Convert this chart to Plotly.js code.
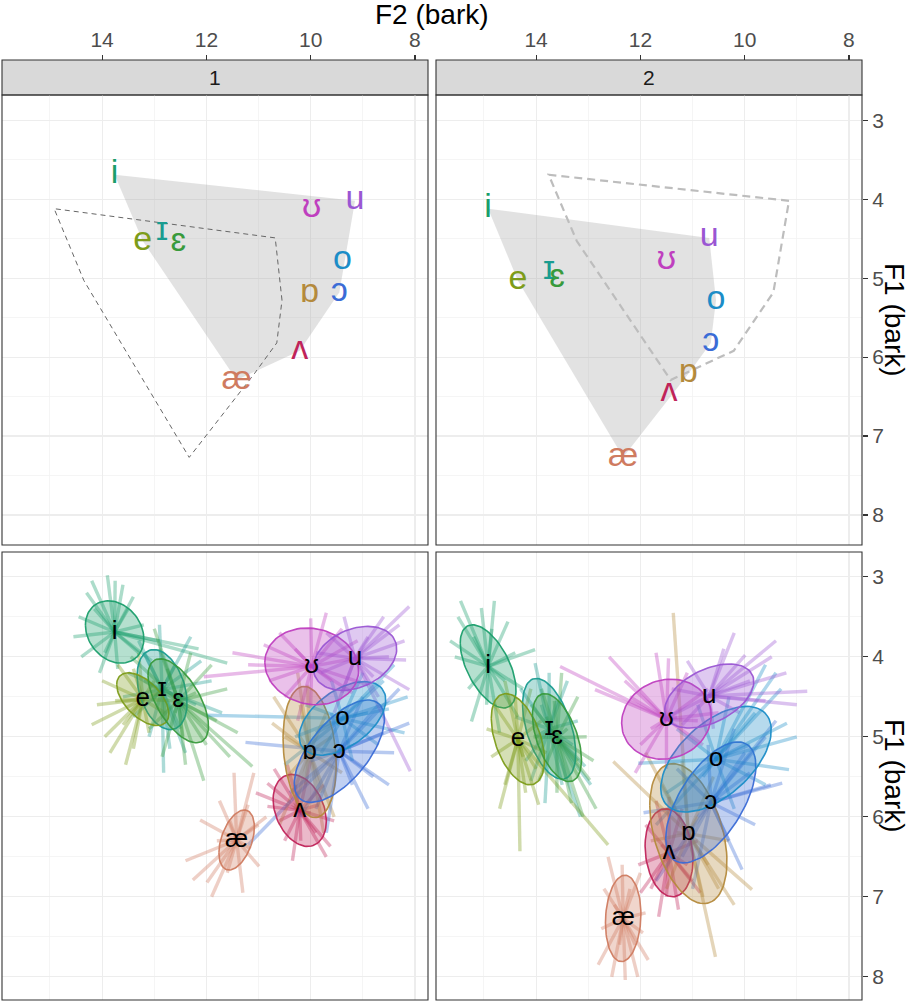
<!DOCTYPE html>
<html><head><meta charset="utf-8">
<script src="https://cdn.plot.ly/plotly-3.0.1.min.js"></script>
<style>html,body{margin:0;padding:0;background:#fff}#chart{width:912px;height:1002px}</style>
</head><body><div id="chart"></div>
<script>
// ---------------- DATA ----------------
const vowels = ['i','ɪ','e','ɛ','æ','ʌ','ɒ','ɔ','o','ʊ','u'];
const vowelColors = ['#1A9E6B','#1A9C90','#7D9C1A','#389A3C','#CF7B60','#C0245A','#B48A3C','#3B6CD6','#1C8DC7','#BF3FBF','#9A56D3'];
const speakers = ['1','2'];
const f2Ticks = [8,10,12,14];
const f1Ticks = [3,4,5,6,7,8];

// speaker means (bark)
const s1F2 = [13.76,12.85,13.22,12.54,11.42,10.21,10.02,9.45,9.39,9.98,9.15];
const s1F1 = [3.69,4.41,4.53,4.55,6.29,5.92,5.19,5.18,4.77,4.12,4.02];
const s2F2 = [14.92,13.75,14.35,13.60,12.33,11.45,11.08,10.65,10.55,11.50,10.68];
const s2F1 = [4.12,4.90,5.03,5.01,7.27,6.45,6.21,5.82,5.28,4.78,4.49];

// ellipse spreads: sd F2, sd F1, correlation
const s1SdF2 = [0.56,0.48,0.50,0.58,0.34,0.51,0.51,0.865,0.83,0.90,0.80];
const s1SdF1 = [0.39,0.50,0.33,0.525,0.375,0.45,0.82,0.64,0.46,0.48,0.40];
const s1Rho  = [-0.22,-0.33,-0.55,-0.6,0.43,-0.3,-0.2,0.63,0.5,-0.1,0.3];
const s2SdF2 = [0.535,0.51,0.51,0.47,0.34,0.46,0.74,0.865,1.06,0.86,0.855];
const s2SdF1 = [0.52,0.63,0.57,0.55,0.54,0.55,0.875,0.756,0.66,0.50,0.40];
const s2Rho  = [-0.56,-0.48,-0.45,-0.5,0.1,-0.15,-0.4,0.6,0.55,0.1,0.45];

// individual tokens [F2, F1], speaker 1
const tok1_i = [[14.30,3.20],[13.90,2.98],[13.60,3.10],[13.40,3.25],[14.45,3.50],[14.40,4.00],[14.05,4.20],[13.70,4.15],[13.30,3.95],[12.90,3.80],[12.15,3.90],[11.60,4.08],[13.50,3.40],[14.15,3.40],[13.95,3.95],[13.20,3.60],[14.55,3.75],[13.75,3.05],[14.20,3.05],[13.05,4.05]];
const tok1_I = [[12.82,5.45],[12.90,3.60],[12.30,3.75],[13.30,3.80],[13.50,4.20],[13.40,4.75],[13.10,5.00],[12.50,4.90],[12.20,4.60],[11.90,4.30],[12.60,4.10],[13.05,4.55],[12.70,5.15],[13.60,4.50],[12.10,4.05],[12.40,5.20],[13.20,3.95],[11.70,4.70]];
const tok1_e = [[13.95,5.00],[14.10,4.60],[14.00,4.30],[13.70,4.10],[13.40,4.15],[13.00,4.30],[12.80,4.70],[13.10,4.95],[13.40,5.15],[13.60,4.85],[12.90,4.45],[13.75,4.55],[14.20,4.85],[13.85,5.20],[12.60,4.55],[13.30,3.95],[13.55,5.35]];
const tok1_E = [[11.12,5.37],[11.60,4.40],[11.90,4.10],[12.30,3.95],[12.90,3.90],[13.20,4.30],[13.10,4.90],[12.85,5.25],[12.40,5.35],[12.00,5.10],[11.80,4.80],[12.60,4.70],[12.20,4.45],[12.75,4.15],[13.45,4.00],[11.55,5.25],[12.05,5.55],[13.00,3.65],[12.45,5.00],[11.40,4.95]];
const tok1_ae = [[12.26,6.79],[11.99,6.82],[11.47,5.45],[11.09,5.45],[10.99,6.62],[12.12,6.04],[11.75,5.80],[11.20,5.85],[11.15,6.40],[11.60,6.70],[11.30,6.95],[11.80,6.30],[11.00,6.10],[12.40,6.55],[10.85,6.00],[11.55,6.05],[11.90,7.00]];
const tok1_V = [[9.62,6.37],[10.83,5.87],[10.83,5.58],[10.19,6.30],[10.50,6.30],[9.90,6.20],[9.75,5.60],[10.00,5.30],[10.45,5.35],[10.60,6.05],[10.00,5.95],[10.30,5.60],[9.85,5.85],[11.05,5.70],[9.55,6.05],[10.35,6.55],[9.70,6.50],[10.70,5.40]];
const tok1_A = [[10.06,4.35],[9.55,6.00],[10.74,4.83],[10.71,4.50],[10.30,5.90],[9.80,5.70],[9.70,4.70],[10.20,4.60],[10.45,5.50],[9.90,5.20],[10.10,5.60],[9.60,5.00],[10.50,5.00],[9.75,6.20],[10.25,4.20],[9.40,5.45],[10.60,6.10]];
const tok1_O = [[8.11,4.83],[11.25,5.07],[11.20,6.35],[8.40,5.20],[8.70,4.60],[9.00,4.50],[9.90,5.90],[10.20,6.00],[9.20,5.60],[8.80,5.50],[9.60,4.70],[10.00,5.30],[9.30,5.05],[8.90,5.90],[8.30,4.40],[10.40,5.70],[8.60,4.95],[9.70,6.20],[8.50,5.60]];
const tok1_o = [[11.99,4.73],[8.14,4.50],[8.20,4.95],[8.60,4.30],[9.00,4.20],[9.60,4.30],[10.10,4.60],[10.30,5.00],[9.80,5.20],[9.20,5.30],[8.70,5.10],[9.50,4.85],[8.90,4.70],[8.40,4.10],[10.50,5.35],[9.90,4.95],[8.50,4.65]];
const tok1_U = [[12.05,4.25],[11.20,4.10],[10.00,3.52],[10.00,4.62],[10.60,3.70],[9.40,3.65],[9.00,4.00],[9.20,4.45],[10.50,4.50],[10.80,4.30],[9.60,4.30],[10.30,3.90],[9.10,3.80],[11.50,3.95],[10.90,3.85],[8.90,4.35],[9.70,3.45],[10.25,4.80]];
const tok1_u = [[8.11,3.37],[8.17,4.04],[8.11,4.41],[9.36,3.50],[8.09,5.43],[8.60,3.50],[9.70,3.70],[9.80,4.20],[9.40,4.45],[8.70,4.50],[8.90,3.75],[9.20,4.10],[8.50,4.00],[8.30,3.60],[9.90,3.95],[8.80,4.25],[8.20,3.80],[9.55,4.70]];

// individual tokens [F2, F1], speaker 2
const tok2_i = [[15.05,3.39],[15.50,3.50],[15.56,4.00],[15.24,4.81],[14.02,3.91],[14.35,4.75],[14.54,3.56],[14.80,3.30],[15.30,4.40],[14.60,4.30],[14.95,4.60],[15.20,3.75],[14.40,3.95],[15.45,3.30],[14.70,4.95],[14.25,4.40],[15.65,3.80],[14.85,3.65]];
const tok2_I = [[14.02,4.08],[13.06,5.37],[13.83,5.83],[14.30,4.40],[14.20,5.30],[13.40,4.30],[13.20,4.80],[13.50,5.60],[14.00,5.00],[13.60,4.55],[13.30,5.10],[13.90,4.60],[14.40,4.75],[12.95,5.60],[13.75,4.20],[13.15,6.00],[14.10,5.55]];
const tok2_e = [[14.31,6.43],[12.62,6.35],[14.86,5.25],[14.80,4.60],[14.60,4.30],[14.10,4.40],[13.90,4.80],[14.00,5.40],[14.20,5.70],[14.60,5.60],[14.45,5.00],[13.80,5.20],[14.95,4.90],[14.40,4.50],[13.95,5.85],[14.70,5.90],[14.25,5.25]];
const tok2_E = [[12.97,5.54],[13.51,4.20],[13.03,5.00],[13.32,5.83],[13.20,4.50],[13.90,4.40],[14.05,5.00],[13.95,5.55],[13.60,5.70],[13.20,5.30],[13.80,4.75],[13.40,4.90],[12.85,5.90],[13.10,6.00],[14.10,4.60],[13.65,4.55],[12.90,5.30]];
const tok2_ae = [[12.62,6.50],[12.29,8.04],[12.81,7.85],[11.85,7.79],[12.00,6.70],[12.70,6.90],[12.75,7.40],[11.90,7.20],[12.10,7.60],[12.50,7.10],[12.20,6.90],[12.40,7.60],[12.55,8.00],[12.05,8.00],[12.35,6.60],[11.95,7.45]];
const tok2_V = [[12.04,6.60],[11.27,7.16],[11.90,6.10],[11.70,5.80],[11.20,5.90],[10.90,6.30],[11.00,6.80],[11.50,7.00],[11.80,6.90],[11.35,6.50],[11.60,6.35],[11.10,6.60],[12.00,6.95],[11.45,5.75],[10.85,6.95],[11.65,7.25]];
const tok2_A = [[11.37,3.45],[10.56,7.75],[9.86,6.91],[12.52,5.31],[11.60,5.60],[10.60,5.50],[10.30,6.30],[10.80,7.00],[11.50,6.90],[11.30,6.20],[10.90,6.00],[11.80,6.30],[10.70,6.60],[11.90,5.20],[10.20,7.10],[11.20,5.30],[10.50,6.90]];
const tok2_O = [[9.28,5.58],[9.60,5.00],[10.05,6.66],[11.94,5.95],[11.20,6.50],[10.30,6.30],[9.80,6.10],[10.00,5.20],[10.70,5.10],[11.30,5.40],[10.50,5.75],[10.90,6.00],[9.50,5.60],[9.40,4.80],[11.70,6.80],[9.90,5.45],[11.00,6.90],[10.20,4.90]];
const tok2_o = [[9.19,4.83],[9.15,5.41],[9.30,4.40],[12.04,5.33],[11.50,5.70],[11.30,4.90],[10.90,4.60],[10.30,4.50],[9.80,4.70],[9.60,5.60],[10.20,5.90],[10.60,5.20],[9.90,5.10],[9.40,4.20],[11.70,6.10],[9.00,5.00],[10.80,5.50],[9.60,4.10]];
const tok2_U = [[13.54,4.12],[12.87,4.41],[11.46,4.02],[12.20,4.50],[12.00,5.10],[11.50,5.40],[10.80,5.10],[10.70,4.40],[11.10,4.20],[11.80,4.90],[11.30,4.75],[12.30,4.30],[10.90,4.80],[12.60,4.00],[11.70,3.95],[10.50,4.70],[12.10,5.45]];
const tok2_u = [[8.80,4.43],[9.48,4.00],[9.99,3.98],[10.40,3.90],[11.10,4.05],[11.40,4.40],[11.20,4.85],[10.60,4.90],[10.10,4.70],[9.60,4.55],[9.90,4.30],[10.80,4.50],[9.20,4.20],[9.40,3.80],[10.20,3.70],[11.60,4.80],[9.00,4.60]];

const tokens1 = [tok1_i,tok1_I,tok1_e,tok1_E,tok1_ae,tok1_V,tok1_A,tok1_O,tok1_o,tok1_U,tok1_u];
const tokens2 = [tok2_i,tok2_I,tok2_e,tok2_E,tok2_ae,tok2_V,tok2_A,tok2_O,tok2_o,tok2_U,tok2_u];

// ---------------- HELPERS ----------------
function rgba(hex, a){const n=parseInt(hex.slice(1),16);return `rgba(${n>>16},${(n>>8)&255},${n&255},${a})`;}
function hull(xs, ys){
  const pts=xs.map((x,i)=>[x,ys[i]]).sort((a,b)=>a[0]-b[0]||a[1]-b[1]);
  const cr=(o,a,b)=>(a[0]-o[0])*(b[1]-o[1])-(a[1]-o[1])*(b[0]-o[0]);
  const lo=[],up=[];
  for(const p of pts){while(lo.length>=2&&cr(lo[lo.length-2],lo[lo.length-1],p)<=0)lo.pop();lo.push(p);}
  for(let i=pts.length-1;i>=0;i--){const p=pts[i];while(up.length>=2&&cr(up[up.length-2],up[up.length-1],p)<=0)up.pop();up.push(p);}
  lo.pop();up.pop();const h=lo.concat(up);h.push(h[0]);return h;
}
function ellipse(mx,my,sx,sy,r){
  const xs=[],ys=[],q=Math.sqrt(1-r*r);
  for(let k=0;k<=90;k++){const t=2*Math.PI*k/90;xs.push(mx+sx*Math.cos(t));ys.push(my+sy*(r*Math.cos(t)+q*Math.sin(t)));}
  return [xs,ys];
}

const FONT='Liberation Sans, Arial, Helvetica, sans-serif';
const means=[[s1F2,s1F1],[s2F2,s2F1]];
const sds=[[s1SdF2,s1SdF1,s1Rho],[s2SdF2,s2SdF1,s2Rho]];
const toks=[tokens1,tokens2];
const topAx=[['x','y'],['x2','y2']];
const botAx=[['x3','y3'],['x4','y4']];
const traces=[];

// ---------------- TOP ROW: polygons + coloured labels ----------------
for(let s=0;s<2;s++){
  const [xa,ya]=topAx[s];
  const h=hull(means[s][0],means[s][1]);
  traces.push({x:h.map(p=>p[0]),y:h.map(p=>p[1]),xaxis:xa,yaxis:ya,mode:'lines',fill:'toself',
    fillcolor:'rgba(160,160,160,0.30)',line:{width:0,color:'rgba(0,0,0,0)'},hoverinfo:'skip'});
  const o=1-s;
  const ho=hull(means[o][0],means[o][1]);
  traces.push({x:ho.map(p=>p[0]),y:ho.map(p=>p[1]),xaxis:xa,yaxis:ya,mode:'lines',
    line:s===0?{width:1,color:'#666666',dash:'5px,4px'}:{width:2.2,color:'#BDBDBD',dash:'8px,5px'},hoverinfo:'skip'});
  traces.push({x:means[s][0],y:means[s][1],xaxis:xa,yaxis:ya,mode:'text',text:vowels,
    textposition:'middle center',textfont:{family:FONT,size:34,color:vowelColors},hoverinfo:'skip',cliponaxis:false});
}

// ---------------- BOTTOM ROW: spokes, ellipses, black labels ----------------
for(let s=0;s<2;s++){
  const [xa,ya]=botAx[s];
  for(let v=0;v<vowels.length;v++){
    const mx=means[s][0][v],my=means[s][1][v];
    const xs=[],ys=[];
    for(const t of toks[s][v]){xs.push(mx,t[0],null);ys.push(my,t[1],null);}
    traces.push({x:xs,y:ys,xaxis:xa,yaxis:ya,mode:'lines',line:{width:3.4,color:rgba(vowelColors[v],0.36)},hoverinfo:'skip'});
  }
  for(let v=0;v<vowels.length;v++){
    const [ex,ey]=ellipse(means[s][0][v],means[s][1][v],sds[s][0][v],sds[s][1][v],sds[s][2][v]);
    traces.push({x:ex,y:ey,xaxis:xa,yaxis:ya,mode:'lines',fill:'toself',fillcolor:rgba(vowelColors[v],0.32),
      line:{width:1.6,color:rgba(vowelColors[v],0.95)},hoverinfo:'skip'});
  }
  traces.push({x:means[s][0],y:means[s][1],xaxis:xa,yaxis:ya,mode:'text',text:vowels,
    textposition:'middle center',textfont:{family:FONT,size:26,color:'#000000'},hoverinfo:'skip'});
}

// invisible traces for top tick axes
traces.push({x:[12],y:[5],xaxis:'x5',yaxis:'y',mode:'markers',marker:{opacity:0},hoverinfo:'skip'});
traces.push({x:[12],y:[5],xaxis:'x6',yaxis:'y2',mode:'markers',marker:{opacity:0},hoverinfo:'skip'});

// ---------------- LAYOUT ----------------
const W=912,H=1002;
const px=v=>v/W, py=v=>1-v/H;
const colL=[px(2),px(428)], colR=[px(436),px(862)];
const rowT=[py(545),py(95)], rowB=[py(1000),py(552)];
const xRange=[15.92,7.75];
const yRangeT=[8.38,2.68], yRangeB=[8.29,2.69];
const GRID='#EDEDED';
function xBase(dom,anchor){return {domain:dom,anchor:anchor,range:xRange,autorange:false,tickvals:f2Ticks,showgrid:true,gridcolor:GRID,gridwidth:1.2,
  minor:{tickvals:[9,11,13,15],showgrid:true,gridcolor:'#F2F2F2',gridwidth:0.8},zeroline:false,showline:false,ticks:'',showticklabels:false,fixedrange:true};}
function yBase(dom,anchor,range,right){
  const a={domain:dom,anchor:anchor,range:range,autorange:false,tickvals:f1Ticks,showgrid:true,gridcolor:GRID,gridwidth:1.2,
  minor:{tickvals:[3.5,4.5,5.5,6.5,7.5],showgrid:true,gridcolor:'#F2F2F2',gridwidth:0.8},zeroline:false,showline:false,fixedrange:true};
  if(right){Object.assign(a,{side:'right',ticks:'outside',ticklen:5,tickwidth:1.1,tickcolor:'#333333',showticklabels:true,
    tickfont:{family:FONT,size:21,color:'#4D4D4D'}});}
  else{Object.assign(a,{ticks:'',showticklabels:false});}
  return a;
}
function xTop(over){return {overlaying:over,anchor:'free',position:py(60),side:'top',range:xRange,autorange:false,tickvals:f2Ticks,
  ticks:'outside',ticklen:5,tickwidth:1.1,tickcolor:'#333333',showgrid:false,zeroline:false,showline:false,
  tickfont:{family:FONT,size:21,color:'#4D4D4D'},fixedrange:true};}

const shapes=[];
[[colL,rowT],[colR,rowT],[colL,rowB],[colR,rowB]].forEach(([c,r])=>{
  shapes.push({type:'rect',xref:'paper',yref:'paper',x0:c[0],x1:c[1],y0:r[0],y1:r[1],line:{color:'#333333',width:1.1},fillcolor:'rgba(0,0,0,0)',layer:'above'});
});
[colL,colR].forEach(c=>{
  shapes.push({type:'rect',xref:'paper',yref:'paper',x0:c[0],x1:c[1],y0:py(95),y1:py(60),line:{color:'#333333',width:1.1},fillcolor:'#D9D9D9',layer:'below'});
});

const annotations=[
  {text:'F2 (bark)',xref:'paper',yref:'paper',x:px(432),y:py(15),xanchor:'center',yanchor:'middle',showarrow:false,font:{family:FONT,size:28,color:'#000000'}},
  {text:'F1 (bark)',xref:'paper',yref:'paper',x:px(895),y:py(320),xanchor:'center',yanchor:'middle',textangle:90,showarrow:false,font:{family:FONT,size:28,color:'#000000'}},
  {text:'F1 (bark)',xref:'paper',yref:'paper',x:px(895),y:py(776),xanchor:'center',yanchor:'middle',textangle:90,showarrow:false,font:{family:FONT,size:28,color:'#000000'}},
  {text:speakers[0],xref:'paper',yref:'paper',x:(colL[0]+colL[1])/2,y:py(77.5),xanchor:'center',yanchor:'middle',showarrow:false,font:{family:FONT,size:21,color:'#1A1A1A'}},
  {text:speakers[1],xref:'paper',yref:'paper',x:(colR[0]+colR[1])/2,y:py(77.5),xanchor:'center',yanchor:'middle',showarrow:false,font:{family:FONT,size:21,color:'#1A1A1A'}}
];

const layout={
  width:W,height:H,margin:{l:0,r:0,t:0,b:0},paper_bgcolor:'#ffffff',plot_bgcolor:'#ffffff',showlegend:false,
  font:{family:FONT},hovermode:false,
  xaxis:xBase(colL,'y'),xaxis2:xBase(colR,'y2'),xaxis3:xBase(colL,'y3'),xaxis4:xBase(colR,'y4'),
  yaxis:yBase(rowT,'x',yRangeT,false),yaxis2:yBase(rowT,'x2',yRangeT,true),
  yaxis3:yBase(rowB,'x3',yRangeB,false),yaxis4:yBase(rowB,'x4',yRangeB,true),
  xaxis5:xTop('x'),xaxis6:xTop('x2'),
  shapes:shapes,annotations:annotations
};
Plotly.newPlot('chart',traces,layout,{staticPlot:true,displayModeBar:false});
</script></body></html>
